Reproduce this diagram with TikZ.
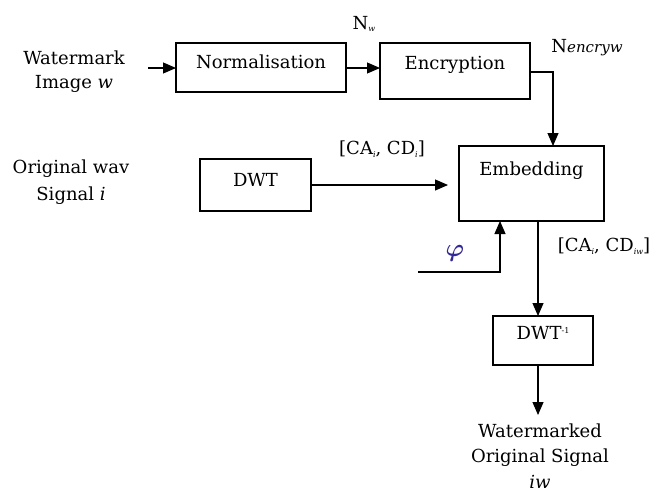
\documentclass[tikz,border=0pt]{standalone}
\usepackage{fontspec}
\usepackage{bm}
\setmainfont{DejaVu Serif}
\usetikzlibrary{arrows.meta,calc}
\definecolor{phicol}{RGB}{50,40,150}
\newcommand{\lowsub}[1]{\raisebox{-2.5pt}{\fontsize{8}{8}\selectfont\itshape #1}}
\newcommand{\highsup}[1]{\raisebox{6pt}{\fontsize{8}{8}\selectfont #1}}
\begin{document}
\begin{tikzpicture}[x=1pt,y=-1pt,
  every node/.style={font=\fontsize{18}{24}\selectfont},
  blockbox/.style={draw, line width=1.1pt, inner sep=0pt, outer sep=0pt, anchor=base},
  arr/.style={-{Triangle[length=13pt,width=11pt]}, line width=1.1pt}]
\useasboundingbox (0,0) rectangle (656,493);

% processing blocks
\node[blockbox, minimum width=170pt, text height=25.5pt, text depth=23.5pt] (norm) at (261,68.5) {Normalisation};
\node[blockbox, minimum width=150pt, text height=26.5pt, text depth=29.5pt] (enc) at (455,69.5) {Encryption};
\node[blockbox, minimum width=111pt, text height=27.5pt, text depth=24.5pt] (dwt) at (255.5,186.5) {DWT};
\node[blockbox, minimum width=145pt, text height=29.5pt, text depth=45.5pt] (emb) at (531.5,175.5) {Embedding};
\node[blockbox, minimum width=100pt, text height=23.5pt, text depth=25.5pt] (inv) at (543,339.5) {DWT\highsup{-1}};

% inputs and output
\node[align=center, font=\fontsize{18}{24}\selectfont] (wm) at (74,72) {Watermark\\Image {\itshape w}};
\node[align=center, font=\fontsize{18}{27}\selectfont] (orig) at (71,182) {Original wav\\Signal {\itshape i}};
\node[align=center, inner sep=0pt, font=\fontsize{18}{25.5}\selectfont] (out) at (540,456) {Watermarked\\Original Signal\\{\itshape iw}};

% signal labels
\node (nw) at (364,24) {N\lowsub{w}};
\node (nenc) at (587,48) {N{\itshape\fontsize{15}{15}\selectfont encryw}};
\node (cai) at (382,149) {[CA\lowsub{i}, CD\lowsub{i}]};
\node (caiw) at (604,246) {[CA\lowsub{i}, CD\lowsub{iw}]};
\node[text=phicol, font=\fontsize{24}{24}\selectfont] (phi) at (455,253) {$\bm{\varphi}$};

% free ends of connectors
\coordinate (wmin) at (148,68);
\coordinate (phin) at (418,272);
\coordinate (outtip) at (538,415);

% connectors
\draw[arr] (wmin) -- (wmin -| norm.west);
\draw[arr] (norm.east |- wmin) -- (enc.west |- wmin);
\draw[arr] ([yshift=-1pt]enc.east) -| ([xshift=21.5pt]emb.north);
\draw[arr, shorten >=11pt] (dwt.east) -- (dwt.east -| emb.west);
\draw[arr] (phin) -| ([xshift=-31.5pt]emb.south);
\draw[arr] ([xshift=6.5pt]emb.south) -- ([xshift=-5pt]inv.north);
\draw[arr] ([xshift=-5pt]inv.south) -- (outtip);
\end{tikzpicture}
\end{document}
